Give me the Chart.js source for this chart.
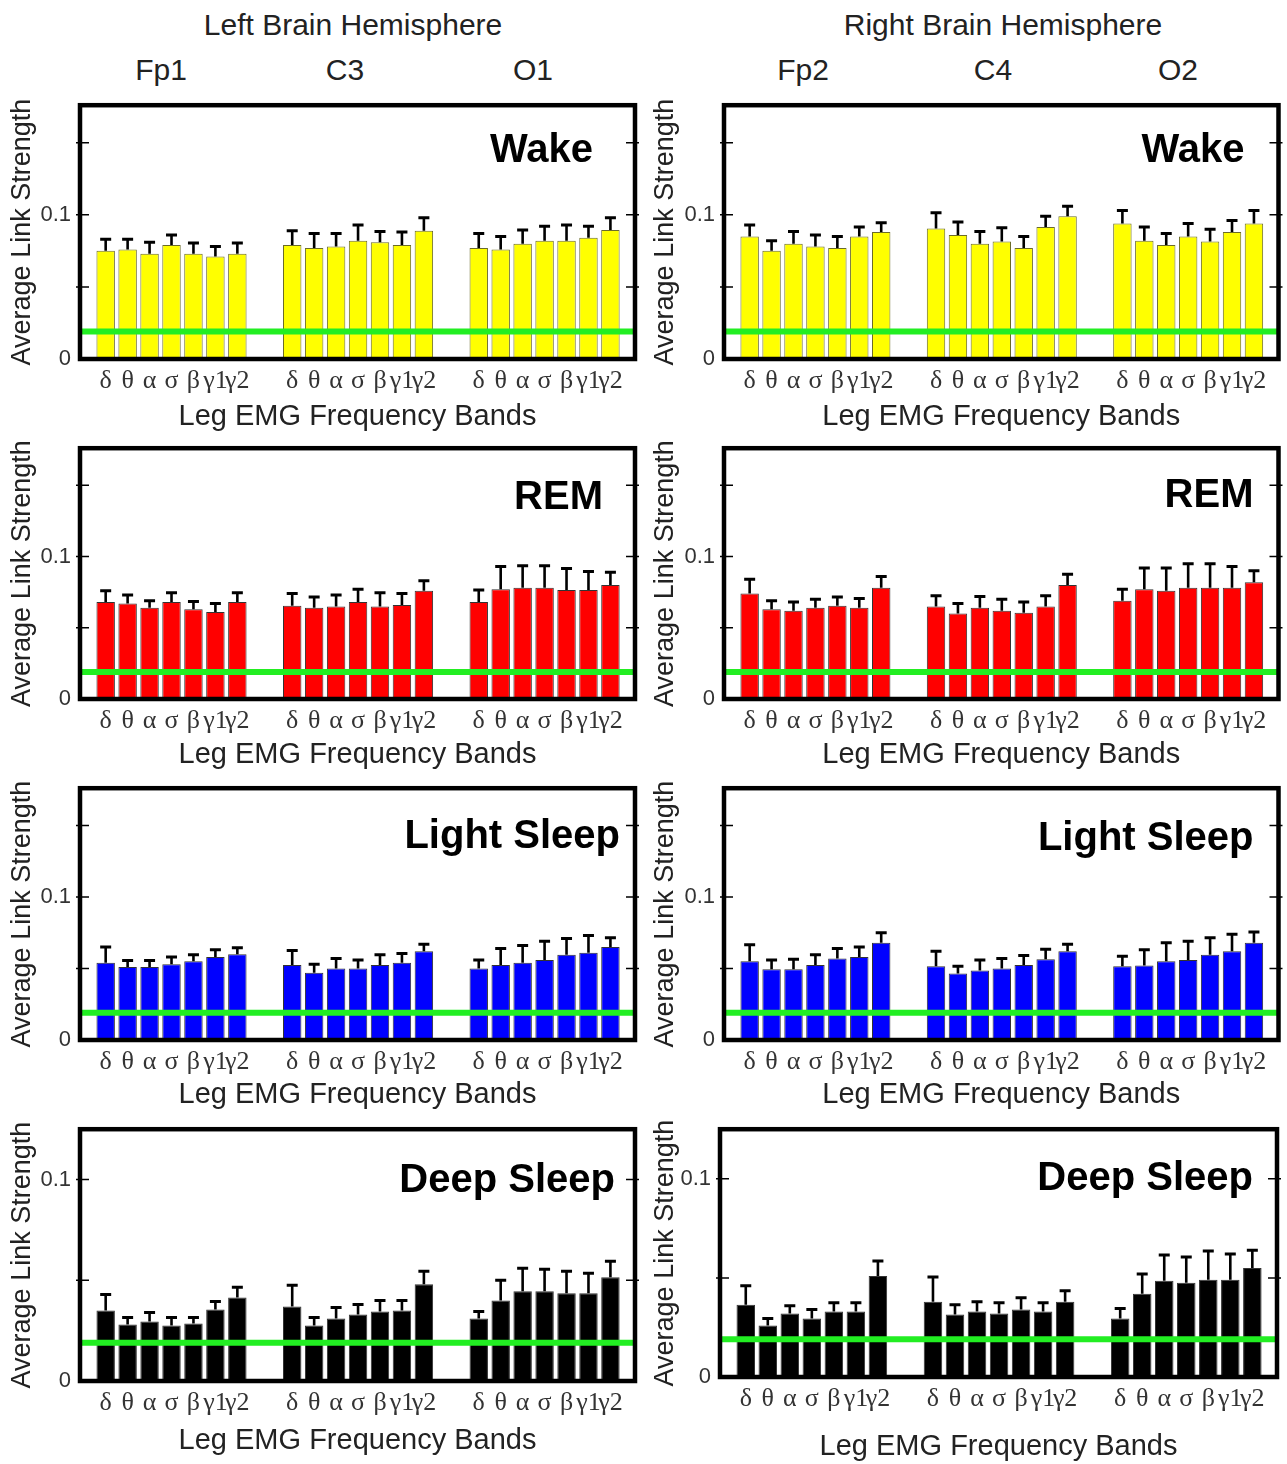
<!DOCTYPE html>
<html>
<head>
<meta charset="utf-8">
<script src="https://cdn.jsdelivr.net/npm/chart.js@4.4.1/dist/chart.umd.min.js"></script>
<style>
  body { margin: 0; background: #fff; }
  #wrap { position: relative; width: 1287px; height: 1464px; overflow: hidden;
          font-family: "Liberation Sans", Arial, sans-serif; color: #222; }
  .hdr { position: absolute; transform: translateX(-50%); white-space: nowrap; line-height: 1; }
  .hemi { font-size: 30px; top: 10px; }
  .chan { font-size: 30px; top: 55px; }
  canvas { position: absolute; }
</style>
</head>
<body>
<div id="wrap"></div>
<script>
"use strict";

// frequency bands of the leg EMG, one bar each per channel
const BANDS = ["δ", "θ", "α", "σ", "β", "γ1", "γ2"];
const LEFT_CHANNELS = ["Fp1", "C3", "O1"];
const RIGHT_CHANNELS = ["Fp2", "C4", "O2"];
const STAGES = ["Wake", "REM", "Light Sleep", "Deep Sleep"];
const HEMISPHERES = ["Left Brain Hemisphere", "Right Brain Hemisphere"];
const CHANCE_LEVEL = 0.019;
const Y_MAX = [0.176, 0.176, 0.176, 0.125];

// mean link strength, Fp / C / O blocks of 7 bands
const wakeLeft = [0.075, 0.076, 0.073, 0.079, 0.073, 0.071, 0.073,
                  0.079, 0.077, 0.078, 0.082, 0.081, 0.079, 0.089,
                  0.077, 0.076, 0.080, 0.082, 0.082, 0.084, 0.0895];
const wakeLeftErr = [0.008, 0.007, 0.008, 0.007, 0.0075, 0.007, 0.0075,
                     0.010, 0.010, 0.009, 0.011, 0.0075, 0.009, 0.009,
                     0.010, 0.009, 0.0095, 0.010, 0.011, 0.008, 0.0085];
const wakeRight = [0.085, 0.075, 0.080, 0.078, 0.077, 0.085, 0.088,
                   0.0905, 0.086, 0.080, 0.0815, 0.077, 0.0915, 0.099,
                   0.094, 0.082, 0.079, 0.085, 0.0815, 0.088, 0.094];
const wakeRightErr = [0.008, 0.007, 0.0085, 0.008, 0.008, 0.0065, 0.0065,
                      0.011, 0.009, 0.0085, 0.0095, 0.008, 0.0075, 0.007,
                      0.009, 0.0095, 0.008, 0.009, 0.0085, 0.008, 0.009];

const remLeft = [0.068, 0.067, 0.064, 0.068, 0.063, 0.061, 0.068,
                 0.0655, 0.064, 0.065, 0.068, 0.065, 0.066, 0.076,
                 0.068, 0.077, 0.078, 0.078, 0.0765, 0.0765, 0.080];
const remLeftErr = [0.008, 0.006, 0.005, 0.0065, 0.0055, 0.006, 0.0065,
                    0.0085, 0.0075, 0.008, 0.009, 0.0095, 0.008, 0.007,
                    0.0085, 0.016, 0.0155, 0.0155, 0.015, 0.013, 0.009];
const remRight = [0.074, 0.063, 0.062, 0.064, 0.0655, 0.064, 0.078,
                  0.065, 0.060, 0.064, 0.062, 0.0605, 0.065, 0.080,
                  0.069, 0.077, 0.076, 0.078, 0.078, 0.078, 0.082];
const remRightErr = [0.010, 0.006, 0.006, 0.006, 0.006, 0.0065, 0.008,
                     0.0075, 0.007, 0.008, 0.008, 0.0075, 0.0075, 0.0075,
                     0.008, 0.015, 0.016, 0.017, 0.017, 0.015, 0.008];

const lightLeft = [0.054, 0.051, 0.051, 0.053, 0.055, 0.058, 0.060,
                   0.0525, 0.047, 0.050, 0.050, 0.0525, 0.054, 0.062,
                   0.050, 0.0525, 0.054, 0.056, 0.0595, 0.061, 0.065];
const lightLeftErr = [0.011, 0.0045, 0.0045, 0.005, 0.0045, 0.005, 0.0045,
                      0.010, 0.006, 0.007, 0.006, 0.007, 0.0065, 0.005,
                      0.006, 0.0115, 0.012, 0.013, 0.0115, 0.012, 0.0065];
const lightRight = [0.055, 0.0495, 0.0495, 0.0525, 0.057, 0.058, 0.068,
                    0.0515, 0.0465, 0.0485, 0.050, 0.0525, 0.0565, 0.062,
                    0.0515, 0.052, 0.055, 0.056, 0.0595, 0.062, 0.068];
const lightRightErr = [0.0115, 0.0065, 0.007, 0.007, 0.007, 0.007, 0.007,
                       0.0105, 0.005, 0.0075, 0.007, 0.0065, 0.007, 0.005,
                       0.007, 0.011, 0.013, 0.013, 0.012, 0.012, 0.0075];

const deepLeft = [0.035, 0.028, 0.0295, 0.0275, 0.0285, 0.0355, 0.0415,
                  0.037, 0.0275, 0.031, 0.033, 0.0345, 0.035, 0.048,
                  0.031, 0.040, 0.0445, 0.0445, 0.0435, 0.0435, 0.0515];
const deepLeftErr = [0.008, 0.0035, 0.0045, 0.004, 0.003, 0.004, 0.005,
                     0.0105, 0.004, 0.0055, 0.005, 0.0055, 0.005, 0.0065,
                     0.0035, 0.010, 0.0115, 0.011, 0.011, 0.010, 0.008];
const deepRight = [0.0365, 0.026, 0.032, 0.0295, 0.033, 0.033, 0.051,
                   0.038, 0.0315, 0.033, 0.032, 0.034, 0.033, 0.038,
                   0.0295, 0.042, 0.0485, 0.0475, 0.049, 0.049, 0.055];
const deepRightErr = [0.0095, 0.0035, 0.004, 0.0045, 0.0045, 0.0045, 0.0075,
                      0.0125, 0.005, 0.005, 0.0055, 0.006, 0.0045, 0.0055,
                      0.005, 0.010, 0.013, 0.013, 0.0145, 0.013, 0.009];

const MEANS = [[wakeLeft, wakeRight], [remLeft, remRight],
               [lightLeft, lightRight], [deepLeft, deepRight]];
const ERRS = [[wakeLeftErr, wakeRightErr], [remLeftErr, remRightErr],
              [lightLeftErr, lightRightErr], [deepLeftErr, deepRightErr]];
const BAR_COLORS = ["#ffff00", "#ff0000", "#0000ff", "#000000"];

// x position of every bar: 3 channel blocks with a wider gap between them
const GROUP_STEP = 8.5;
const X_MIN = -1.17;
const X_MAX = 2 * GROUP_STEP + 6 + 1.12;
const xPos = [];
for (let g = 0; g < 3; g++) {
  for (let b = 0; b < BANDS.length; b++) xPos.push(g * GROUP_STEP + b);
}

// panel frames on the page (left, top, right, bottom)
const FRAMES = [
  [[80, 104, 635, 359], [724, 104, 1280, 359]],
  [[80, 447, 635, 699], [724, 447, 1280, 699]],
  [[80, 787, 635, 1040], [724, 787, 1280, 1040]],
  [[80, 1128, 635, 1381], [720, 1128, 1277, 1377]],
];
const LABEL_POS = [
  [[42, 46], [34, 46]],
  [[32, 50], [25, 48]],
  [[15, 49], [25, 51]],
  [[20, 52], [24, 50]],
];
const TITLE_OFFSET = [[58, 58], [56, 56], [55, 55], [60, 70]];

const wrap = document.getElementById("wrap");

HEMISPHERES.forEach((text, i) => {
  const d = document.createElement("div");
  d.className = "hdr hemi";
  d.style.left = (i === 0 ? 353 : 1003) + "px";
  d.textContent = text;
  wrap.appendChild(d);
});
[LEFT_CHANNELS, RIGHT_CHANNELS].forEach((chs, side) => {
  const cx = side === 0 ? [161, 345, 533] : [803, 993, 1178];
  chs.forEach((ch, i) => {
    const d = document.createElement("div");
    d.className = "hdr chan";
    d.style.left = cx[i] + "px";
    d.textContent = ch;
    wrap.appendChild(d);
  });
});

const framePlugin = {
  id: "frame",
  afterDatasetsDraw(chart, args, opts) {
    const { ctx, chartArea: a } = chart;
    const y = chart.scales.y;
    ctx.save();
    ctx.strokeStyle = "#000";
    ctx.lineWidth = 1.5;
    y.ticks.forEach((t) => {
      if (t.value === 0) return;
      const py = y.getPixelForValue(t.value);
      ctx.beginPath();
      ctx.moveTo(a.left - 4, py);
      ctx.lineTo(a.left + 9, py);
      ctx.moveTo(a.right + 4, py);
      ctx.lineTo(a.right - 9, py);
      ctx.stroke();
    });
    ctx.lineWidth = 4.5;
    ctx.strokeRect(a.left, a.top, a.right - a.left, a.bottom - a.top);
    ctx.font = 'bold 40px "Liberation Sans", Arial, sans-serif';
    ctx.textAlign = "right";
    ctx.textBaseline = "middle";
    ctx.fillStyle = "#000";
    ctx.fillText(opts.text, a.right - opts.dx, a.top + opts.dy);
    ctx.restore();
  },
};

function makePanel(row, side) {
  const [fl, ft, fr, fb] = FRAMES[row][side];
  const canvasLeft = side === 0 ? 0 : 645;
  const canvasWidth = side === 0 ? 645 : 642;
  // the empty top tick label still reserves ~11px above the plot
  const canvasTop = ft - 21;
  const axisHeight = row === 3 ? (side === 0 ? 82 : 86) : 78;
  const canvas = document.createElement("canvas");
  canvas.width = canvasWidth;
  canvas.height = fb + axisHeight - canvasTop;
  canvas.style.left = canvasLeft + "px";
  canvas.style.top = canvasTop + "px";
  wrap.appendChild(canvas);

  const means = MEANS[row][side];
  const errs = ERRS[row][side];
  const titleCenter = TITLE_OFFSET[row][side];

  new Chart(canvas.getContext("2d"), {
    type: "bar",
    data: {
      datasets: [
        {
          type: "line",
          data: [{ x: X_MIN, y: CHANCE_LEVEL }, { x: X_MAX, y: CHANCE_LEVEL }],
          borderColor: "#22ee22",
          borderWidth: 6,
          pointRadius: 0,
          order: 0,
        },
        {
          type: "line",
          data: xPos.map((x, i) => ({ x: x, y: means[i] + errs[i] })),
          showLine: false,
          pointStyle: "line",
          pointRadius: 5.5,
          pointBorderWidth: 3,
          pointBorderColor: "#000",
          order: 1,
        },
        {
          data: xPos.map((x, i) => ({ x: x, y: [means[i], means[i] + errs[i]] })),
          backgroundColor: "#000",
          borderWidth: 0,
          grouped: false,
          maxBarThickness: 2.6,
          order: 2,
        },
        {
          data: xPos.map((x, i) => ({ x: x, y: means[i] })),
          backgroundColor: BAR_COLORS[row],
          borderColor: row === 0 ? "#6b6b2a" : "#333",
          borderWidth: 1,
          grouped: false,
          barPercentage: 0.84,
          categoryPercentage: 1.0,
          order: 3,
        },
      ],
    },
    options: {
      responsive: false,
      animation: false,
      events: [],
      layout: {
        padding: { top: 10, right: canvasLeft + canvasWidth - fr, left: 0, bottom: 0 },
      },
      plugins: {
        legend: { display: false },
        tooltip: { enabled: false },
        frame: {
          text: STAGES[row],
          dx: LABEL_POS[row][side][0],
          dy: LABEL_POS[row][side][1],
        },
      },
      scales: {
        x: {
          type: "linear",
          min: X_MIN,
          max: X_MAX,
          offset: false,
          grid: { display: false, drawTicks: false },
          border: { display: false },
          afterBuildTicks: (axis) => {
            axis.ticks = xPos.map((v) => ({ value: v }));
          },
          afterFit: (axis) => {
            axis.height = axisHeight;
          },
          ticks: {
            autoSkip: false,
            maxRotation: 0,
            minRotation: 0,
            padding: 7,
            color: "#333",
            font: { family: '"Liberation Serif", "DejaVu Serif", serif', size: 26 },
            callback: function (value) {
              const i = xPos.indexOf(value);
              return i < 0 ? "" : BANDS[i % BANDS.length];
            },
          },
          title: {
            display: true,
            text: "Leg EMG Frequency Bands",
            color: "#222",
            font: { family: '"Liberation Sans", Arial, sans-serif', size: 29 },
            padding: { top: 0, bottom: axisHeight - titleCenter - 17 },
          },
        },
        y: {
          min: 0,
          max: Y_MAX[row],
          grid: { display: false, drawTicks: false },
          border: { display: false },
          afterFit: (axis) => {
            axis.width = fl - canvasLeft;
          },
          ticks: {
            stepSize: 0.05,
            includeBounds: false,
            padding: 9,
            color: "#333",
            font: { family: '"Liberation Sans", Arial, sans-serif', size: 22 },
            callback: function (value) {
              if (Math.abs(value) < 1e-9) return "0";
              if (Math.abs(value - 0.1) < 1e-9) return "0.1";
              return "";
            },
          },
          title: {
            display: true,
            text: "Average Link Strength",
            color: "#222",
            font: { family: '"Liberation Sans", Arial, sans-serif', size: 27 },
            padding: { top: side === 0 ? 6 : 4, bottom: 0 },
          },
        },
      },
    },
    plugins: [framePlugin],
  });
}

for (let row = 0; row < STAGES.length; row++) {
  makePanel(row, 0);
  makePanel(row, 1);
}
</script>
</body>
</html>
